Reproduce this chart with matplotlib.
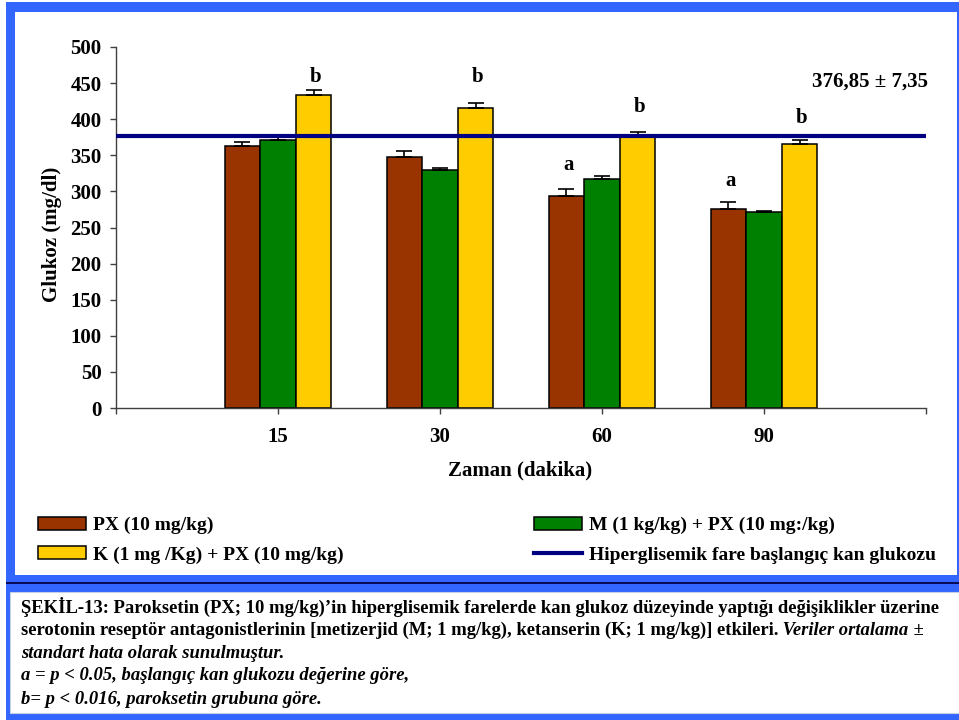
import numpy as np
import matplotlib.pyplot as plt
from matplotlib.patches import Rectangle

plt.rcParams['font.family'] = ['Liberation Serif', 'DejaVu Serif']
plt.rcParams['font.weight'] = 'bold'

## data
times = ['15', '30', '60', '90']
px_mean = [363, 348, 294, 276]
px_err = [5, 8, 10, 10]
m_mean = [371, 330, 317, 271]
m_err = [7, 3, 5, 2]
k_mean = [433, 415, 376, 366]
k_err = [8, 8, 6, 5]
baseline = 376.85
baseline_sem = 7.35

px_label = 'PX (10 mg/kg)'
m_label = 'M (1 kg/kg) + PX (10 mg:/kg)'
k_label = 'K (1 mg /Kg) + PX (10 mg/kg)'
line_label = 'Hiperglisemik fare başlangıç kan glukozu'

# significance letters: (letter, time index, series index, pad in pt)
sig = [('b', 0, 2, 9), ('b', 1, 2, 18.5), ('b', 2, 2, 18), ('b', 3, 2, 16),
       ('a', 2, 0, 17), ('a', 3, 0, 14.5)]

W, H = 959, 720
fx = lambda px: px / W
fy = lambda py: 1 - py / H

fig = plt.figure(figsize=(W / 100, H / 100), dpi=100, facecolor='white')

# blue frame with two white panels and a dark separator
blue = '#3366FF'
fig.add_artist(Rectangle((fx(6), 0), 1 - fx(6), fy(2), transform=fig.transFigure,
                         facecolor=blue, edgecolor='none', zorder=-3))
fig.add_artist(Rectangle((fx(15), fy(575)), fx(957) - fx(15), fy(12) - fy(575),
                         transform=fig.transFigure, facecolor='white', edgecolor='none', zorder=-2))
fig.add_artist(Rectangle((fx(10), fy(713)), 1 - fx(10), fy(592) - fy(713),
                         transform=fig.transFigure, facecolor='white', edgecolor='#c8d0e8',
                         lw=0.8, zorder=-2))
fig.add_artist(Rectangle((fx(6), fy(584)), 1 - fx(6), fy(582) - fy(584), transform=fig.transFigure,
                         facecolor='#0a0a5a', edgecolor='none', zorder=-2))

ax = fig.add_axes([fx(116), fy(408), fx(926) - fx(116), fy(47) - fy(408)])
ax.set_facecolor('none')

x = np.arange(1, len(times) + 1)
w = 0.22
zeros = np.zeros(len(times))
b_px = ax.bar(x - w, px_mean, w, color='#993300', edgecolor='black', lw=1.1, zorder=2)
b_m = ax.bar(x, m_mean, w, color='#008000', edgecolor='black', lw=1.1, zorder=2)
b_k = ax.bar(x + w, k_mean, w, color='#FFCC00', edgecolor='black', lw=1.1, zorder=2)
means = [px_mean, m_mean, k_mean]
errs = [px_err, m_err, k_err]
for i, (mu, er) in enumerate(zip(means, errs)):
    ax.errorbar(x + (i - 1) * w, mu, yerr=[zeros, er], fmt='none', ecolor='black',
                elinewidth=1.2, capsize=6, capthick=1.2, zorder=3)

hl = ax.axhline(baseline, color='#000080', lw=3, zorder=4)
fig.text(fx(928), fy(82), '{:.2f} ± {:.2f}'.format(baseline, baseline_sem).replace('.', ','),
         ha='right', va='center', fontsize=15)

for letter, ti, si, pad in sig:
    ytop = means[si][ti] + errs[si][ti]
    ax.annotate(letter, xy=(x[ti] + (si - 1) * w, ytop), xytext=(1.5, pad),
                textcoords='offset points', ha='center', va='center', fontsize=15)

ax.set_xlim(0, 5)
ax.set_ylim(0, 500)
ax.set_yticks(np.arange(0, 501, 50))
ax.set_xticks(np.arange(0, 6))
ax.set_xticklabels([''] + times + [''])
for s in ['top', 'right']:
    ax.spines[s].set_visible(False)
for s in ['left', 'bottom']:
    ax.spines[s].set_color('#404040')
    ax.spines[s].set_linewidth(1.0)
ax.tick_params(axis='y', direction='out', length=4.5, width=1, color='#404040',
               labelsize=15, pad=6)
ax.tick_params(axis='x', direction='out', length=4, width=1, color='#404040',
               labelsize=15, pad=10)

fig.text(fx(520), fy(470), 'Zaman (dakika)', ha='center', va='center', fontsize=15)
fig.text(fx(52), fy(234), 'Glukoz (mg/dl)', ha='center', va='center', rotation=90,
         fontsize=15)

fig.legend([b_px, b_k, b_m, hl], [px_label, k_label, m_label, line_label],
           ncol=2, mode='expand', loc='upper left', frameon=False,
           bbox_to_anchor=(fx(38), fy(567), fx(936) - fx(38), fy(517) - fy(567)),
           fontsize=14, handlelength=2.47, handleheight=0.62, handletextpad=0.36,
           labelspacing=0.62, borderpad=0, borderaxespad=0)

# caption
cap = fig.add_axes([0, 0, 1, 1])
cap.axis('off')
cap.set_xlim(0, 1)
cap.set_ylim(0, 1)
cs = 13.4
lines_y = [607, 630, 653, 676, 699]
cap.text(fx(21), fy(lines_y[0]),
         'ŞEKİL-13: Paroksetin (PX; 10 mg/kg)’in hiperglisemik farelerde kan glukoz '
         'düzeyinde yaptığı değişiklikler üzerine', va='center', fontsize=cs)
t2 = cap.text(fx(21), fy(lines_y[1]),
              'serotonin reseptör antagonistlerinin [metizerjid (M; 1 mg/kg), '
              'ketanserin (K; 1 mg/kg)] etkileri.', va='center', fontsize=cs)
t2b = cap.annotate(' Veriler ortalama', xy=(1, 0), xycoords=t2, va='bottom',
                   fontsize=cs, style='italic')
cap.annotate(' ±', xy=(1, 0), xycoords=t2b, va='bottom', fontsize=cs)
for yy, s in zip(lines_y[2:], ['standart hata olarak sunulmuştur.',
                               'a = p < 0.05, başlangıç kan glukozu değerine göre,',
                               'b= p < 0.016, paroksetin grubuna göre.']):
    cap.text(fx(21), fy(yy), s, va='center', fontsize=cs, style='italic')

fig.savefig('out.png', dpi=100, facecolor=fig.get_facecolor())
